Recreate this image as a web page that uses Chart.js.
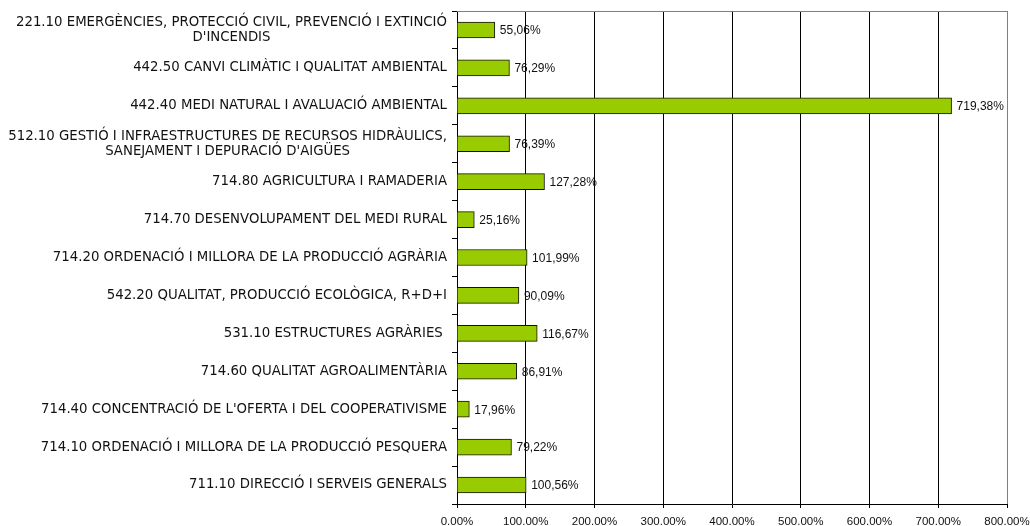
<!DOCTYPE html>
<html><head><meta charset="utf-8">
<script src="https://cdn.jsdelivr.net/npm/chart.js@4/dist/chart.umd.min.js"></script>
<style>html,body{margin:0;padding:0;background:#fff;overflow:hidden}#wrap{width:1030px;height:526px;position:relative}</style>
</head><body><div id="wrap"><canvas id="c" width="1030" height="526"></canvas></div>
<script>
const categories = [
  ["221.10 EMERGÈNCIES, PROTECCIÓ CIVIL, PREVENCIÓ I EXTINCIÓ", "D'INCENDIS"],
  ["442.50 CANVI CLIMÀTIC I QUALITAT AMBIENTAL"],
  ["442.40 MEDI NATURAL I AVALUACIÓ AMBIENTAL"],
  ["512.10 GESTIÓ I INFRAESTRUCTURES DE RECURSOS HIDRÀULICS,", "SANEJAMENT I DEPURACIÓ D'AIGÜES"],
  ["714.80 AGRICULTURA I RAMADERIA"],
  ["714.70 DESENVOLUPAMENT DEL MEDI RURAL"],
  ["714.20 ORDENACIÓ I MILLORA DE LA PRODUCCIÓ AGRÀRIA"],
  ["542.20 QUALITAT, PRODUCCIÓ ECOLÒGICA, R+D+I"],
  ["531.10 ESTRUCTURES AGRÀRIES "],
  ["714.60 QUALITAT AGROALIMENTÀRIA"],
  ["714.40 CONCENTRACIÓ DE L'OFERTA I DEL COOPERATIVISME"],
  ["714.10 ORDENACIÓ I MILLORA DE LA PRODUCCIÓ PESQUERA"],
  ["711.10 DIRECCIÓ I SERVEIS GENERALS"]
];
const values = [55.06, 76.29, 719.38, 76.39, 127.28, 25.16, 101.99, 90.09, 116.67, 86.91, 17.96, 79.22, 100.56];
const valueLabels = ["55,06%", "76,29%", "719,38%", "76,39%", "127,28%", "25,16%", "101,99%", "90,09%", "116,67%", "86,91%", "17,96%", "79,22%", "100,56%"];
const xTickValues = [0, 100, 200, 300, 400, 500, 600, 700, 800];
const xTickLabels = ["0.00%", "100.00%", "200.00%", "300.00%", "400.00%", "500.00%", "600.00%", "700.00%", "800.00%"];

const LABEL_FONT = '13.3px "DejaVu Sans", Verdana, sans-serif';
const VALUE_FONT = '12px "Liberation Sans", Arial, sans-serif';

const catLabelPlugin = {
  id: 'catLabels',
  afterDraw(chart) {
    const ctx = chart.ctx;
    const ys = chart.scales.y;
    const rightEdge = ys.right - 10;
    ctx.save();
    ctx.font = LABEL_FONT;
    ctx.fillStyle = '#111';
    ctx.textBaseline = 'middle';
    ctx.textAlign = 'center';
    const lh = 15;
    categories.forEach((lines, i) => {
      const cy = ys.getPixelForValue(i);
      const w = Math.max(...lines.map(l => ctx.measureText(l).width));
      const cx = rightEdge - w / 2;
      const y0 = cy - (lines.length - 1) * lh / 2;
      lines.forEach((l, k) => ctx.fillText(l, cx, y0 + k * lh));
    });
    ctx.restore();
  }
};

const valueLabelPlugin = {
  id: 'valueLabels',
  afterDatasetsDraw(chart) {
    const ctx = chart.ctx;
    const meta = chart.getDatasetMeta(0);
    ctx.save();
    ctx.font = VALUE_FONT;
    ctx.fillStyle = '#111';
    ctx.textBaseline = 'middle';
    ctx.textAlign = 'left';
    meta.data.forEach((bar, i) => {
      ctx.fillText(valueLabels[i], bar.x + 5, bar.y + 1);
    });
    ctx.restore();
  }
};

const frameplugin = {
  id: 'frame',
  afterDraw(chart) {
    const a = chart.chartArea;
    const ctx = chart.ctx;
    ctx.save();
    ctx.strokeStyle = '#808080';
    ctx.lineWidth = 1;
    ctx.beginPath();
    ctx.moveTo(Math.round(a.left), Math.round(a.top) + 0.5);
    ctx.lineTo(Math.round(a.right) + 1, Math.round(a.top) + 0.5);
    ctx.stroke();
    ctx.restore();
  }
};

new Chart(document.getElementById('c'), {
  type: 'bar',
  data: {
    labels: categories.map(c => c.join(' ')),
    datasets: [{
      data: values,
      backgroundColor: '#99CC00',
      borderColor: '#111',
      borderWidth: 1,
      barThickness: 16
    }]
  },
  options: {
    indexAxis: 'y',
    responsive: false,
    animation: false,
    devicePixelRatio: 1,
    layout: { padding: { left: 0, right: 23, top: 11, bottom: 0 } },
    plugins: { legend: { display: false }, tooltip: { enabled: false } },
    scales: {
      x: {
        type: 'linear',
        min: 0, max: 800,
        afterBuildTicks(scale) { scale.ticks = xTickValues.map(v => ({ value: v })); },
        afterFit(scale) { scale.height = 22; scale.paddingRight = 0; scale.paddingLeft = 0; },
        ticks: {
          padding: 7,
          color: '#111',
          font: { family: '"Liberation Sans", Arial, sans-serif', size: 11.5 },
          callback: (v, i) => xTickLabels[i]
        },
        grid: {
          color: (c) => (c.tick && c.tick.value === 800) ? '#808080' : '#000',
          lineWidth: 1,
          tickLength: 4,
          tickColor: '#000',
          drawTicks: true
        },
        border: { display: true, color: '#000', width: 1 }
      },
      y: {
        type: 'category',
        afterFit(scale) { scale.width = 457; },
        ticks: { display: false },
        grid: {
          offset: true,
          drawOnChartArea: false,
          drawTicks: true,
          tickLength: 5,
          color: '#000'
        },
        border: { display: true, color: '#000', width: 1 }
      }
    }
  },
  plugins: [valueLabelPlugin, catLabelPlugin, frameplugin]
});
</script>
</body></html>
